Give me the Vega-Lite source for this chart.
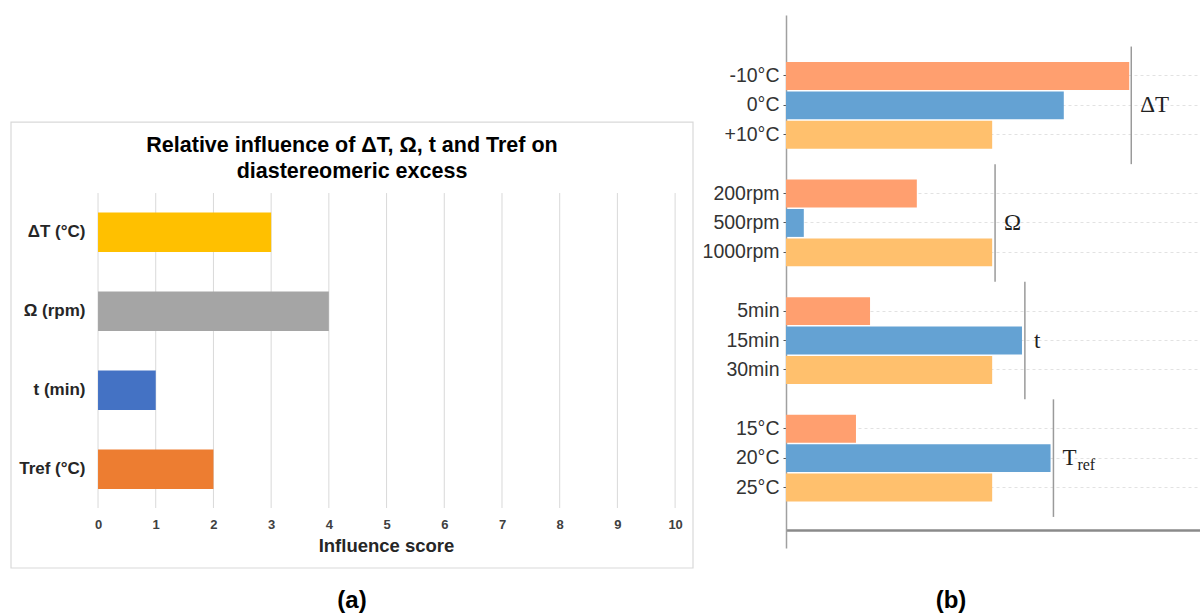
{
  "$schema": "https://vega.github.io/schema/vega-lite/v6.json",
  "padding": {"left": 10, "top": 15, "right": 0, "bottom": 0},
  "background": "white",
  "config": {"font": "Liberation Sans", "view": {"stroke": null}},
  "spacing": 8,
  "resolve": {"scale": {"color": "independent"}},
  "datasets": {
    "scores": [
      {"factor": "ΔT (°C)", "score": 3},
      {"factor": "Ω (rpm)", "score": 4},
      {"factor": "t (min)", "score": 1},
      {"factor": "Tref (°C)", "score": 2}
    ],
    "ticks": [
      {"tick": 0}, {"tick": 1}, {"tick": 2}, {"tick": 3}, {"tick": 4}, {"tick": 5},
      {"tick": 6}, {"tick": 7}, {"tick": 8}, {"tick": 9}, {"tick": 10}
    ],
    "levels": [
      {"param": "ΔT", "setting": "-10°C", "level": "low", "value": 82.9},
      {"param": "ΔT", "setting": "0°C", "level": "mid", "value": 67.1},
      {"param": "ΔT", "setting": "+10°C", "level": "high", "value": 49.8},
      {"param": "Ω", "setting": "200rpm", "level": "low", "value": 31.6},
      {"param": "Ω", "setting": "500rpm", "level": "mid", "value": 4.3},
      {"param": "Ω", "setting": "1000rpm", "level": "high", "value": 49.8},
      {"param": "t", "setting": "5min", "level": "low", "value": 20.3},
      {"param": "t", "setting": "15min", "level": "mid", "value": 57.0},
      {"param": "t", "setting": "30min", "level": "high", "value": 49.8},
      {"param": "Tref", "setting": "15°C", "level": "low", "value": 16.9},
      {"param": "Tref", "setting": "20°C", "level": "mid", "value": 63.9},
      {"param": "Tref", "setting": "25°C", "level": "high", "value": 49.8}
    ],
    "brackets": [
      {"param": "ΔT", "label": "ΔT", "sub": "", "top": "g0", "bottom": "g1", "mid": "0°C", "bx": 83.4},
      {"param": "Ω", "label": "Ω", "sub": "", "top": "g1", "bottom": "g2", "mid": "500rpm", "bx": 50.5},
      {"param": "t", "label": "t", "sub": "", "top": "g2", "bottom": "g3", "mid": "15min", "bx": 57.7},
      {"param": "Tref", "label": "T", "sub": "ref", "top": "g3", "bottom": "g4", "mid": "20°C", "bx": 64.6}
    ]
  },
  "hconcat": [
    {
      "title": {"text": "(a)", "orient": "bottom", "anchor": "middle", "fontSize": 24, "fontWeight": "bold", "offset": 20, "color": "#000"},
      "vconcat": [
        {
          "width": 682,
          "height": 553,
          "title": {
            "text": ["Relative influence of ΔT, Ω, t and Tref on", "diastereomeric excess"],
            "fontSize": 21.5, "fontWeight": "bold", "lineHeight": 26, "offset": -167, "color": "#000"
          },
          "resolve": {"scale": {"y": "independent"}},
          "layer": [
            {
              "data": {"values": [{"frame": "border"}]},
              "mark": {"type": "rect", "fill": "#ffffff", "fillOpacity": 0, "stroke": "#D9D9D9", "strokeWidth": 1.2},
              "encoding": {
                "x": {"datum": -1.508, "type": "quantitative", "scale": {"domain": [-1.508, 10.31], "nice": false, "zero": false}},
                "x2": {"datum": 10.31},
                "y": {"datum": 0, "type": "quantitative", "scale": {"domain": [0, 1.24], "nice": false, "zero": false}, "axis": null},
                "y2": {"datum": 1}
              }
            },
            {
              "data": {"name": "ticks"},
              "mark": {"type": "rule", "color": "#D9D9D9", "strokeWidth": 1},
              "encoding": {
                "x": {"field": "tick", "type": "quantitative", "scale": {"domain": [-1.508, 10.31], "nice": false, "zero": false}},
                "y": {"datum": 0.1345, "type": "quantitative", "scale": {"domain": [0, 1.24], "nice": false, "zero": false}, "axis": null},
                "y2": {"datum": 0.8408}
              }
            },
            {
              "data": {"name": "scores"},
              "mark": {"type": "bar"},
              "encoding": {
                "y": {
                  "field": "factor", "type": "nominal",
                  "scale": {"domain": ["_a", "ΔT (°C)", "Ω (rpm)", "t (min)", "Tref (°C)", "_b"], "paddingInner": 0.5, "paddingOuter": 0.75, "align": 1},
                  "axis": {
                    "title": null, "domain": false, "ticks": false, "offset": -87,
                    "labelExpr": "indexof(datum.label, '_') === 0 ? '' : datum.label",
                    "labelFontSize": 17, "labelFontWeight": "bold", "labelColor": "#262626", "labelPadding": 13
                  }
                },
                "x": {
                  "field": "score", "type": "quantitative",
                  "scale": {"domain": [-1.508, 10.31], "nice": false, "zero": false},
                  "axis": {
                    "values": [0, 1, 2, 3, 4, 5, 6, 7, 8, 9, 10], "format": "d", "offset": -60,
                    "domain": false, "ticks": false, "grid": false,
                    "labelFontSize": 13, "labelFontWeight": "bold", "labelColor": "#404040", "labelPadding": 10,
                    "title": "Influence score", "titleFontSize": 18.5, "titleFontWeight": "bold", "titleColor": "#262626", "titlePadding": 5,
                    "titleX": 375
                  }
                },
                "x2": {"datum": 0},
                "color": {
                  "field": "factor", "type": "nominal",
                  "scale": {"domain": ["ΔT (°C)", "Ω (rpm)", "t (min)", "Tref (°C)"], "range": ["#FFC000", "#A5A5A5", "#4472C4", "#ED7D31"]},
                  "legend": null
                }
              }
            }
          ]
        }
      ]
    },
    {
      "title": {"text": "(b)", "orient": "bottom", "anchor": "middle", "fontSize": 24, "fontWeight": "bold", "offset": 41, "color": "#000"},
      "vconcat": [
        {
          "width": 414,
          "height": 533,
          "layer": [
            {
              "data": {"name": "levels"},
              "mark": {"type": "bar"},
              "encoding": {
                "y": {
                  "field": "setting", "type": "nominal", "title": null,
                  "scale": {"domain": ["g0", "-10°C", "0°C", "+10°C", "g1", "200rpm", "500rpm", "1000rpm", "g2", "5min", "15min", "30min", "g3", "15°C", "20°C", "25°C", "g4"], "paddingInner": 0.05, "paddingOuter": 0.59, "align": 0.507},
                  "axis": {
                    "title": null,
                    "domainColor": "#a0a0a0", "domainWidth": 1.5,
                    "tickSize": 3, "tickColor": "#555555",
                    "tickOpacity": {"condition": {"test": "indexof(datum.value, 'g') === 0", "value": 0}, "value": 1},
                    "labelFontSize": 19.5, "labelColor": "#333333", "labelPadding": 4,
                    "labelExpr": "indexof(datum.label, 'g') === 0 ? '' : datum.label",
                    "grid": true, "gridColor": "#e2e2e2", "gridDash": [3, 3],
                    "gridOpacity": {"condition": {"test": "indexof(datum.value, 'g') === 0", "value": 0}, "value": 1}
                  }
                },
                "x": {
                  "field": "value", "type": "quantitative",
                  "scale": {"domain": [0, 100], "nice": false},
                  "axis": {
                    "orient": "bottom", "offset": -18, "labels": false, "ticks": false, "grid": false,
                    "domainColor": "#8a8a8a", "domainWidth": 2.5,
                    "title": "Relative influence", "titleAnchor": "end", "titleFontSize": 16, "titleFontWeight": "normal", "titleColor": "#333333", "titlePadding": 6
                  }
                },
                "color": {
                  "field": "level", "type": "nominal",
                  "scale": {"domain": ["low", "mid", "high"], "range": ["#FF9F6F", "#64A2D3", "#FFC06D"]},
                  "legend": null
                }
              }
            },
            {
              "data": {"name": "brackets"},
              "mark": {"type": "rule", "color": "#9a9a9a", "strokeWidth": 1.5},
              "encoding": {
                "x": {"field": "bx", "type": "quantitative", "title": null, "scale": {"domain": [0, 100], "nice": false}},
                "y": {"field": "top", "type": "nominal", "title": null, "scale": {"domain": ["g0", "-10°C", "0°C", "+10°C", "g1", "200rpm", "500rpm", "1000rpm", "g2", "5min", "15min", "30min", "g3", "15°C", "20°C", "25°C", "g4"], "paddingInner": 0.05, "paddingOuter": 0.59, "align": 0.507}},
                "y2": {"field": "bottom"}
              }
            },
            {
              "data": {"name": "brackets"},
              "mark": {"type": "text", "align": "left", "baseline": "middle", "dx": 9, "font": "Liberation Serif", "fontSize": 23, "color": "#222222"},
              "encoding": {
                "x": {"field": "bx", "type": "quantitative", "title": null, "scale": {"domain": [0, 100], "nice": false}},
                "y": {"field": "mid", "type": "nominal", "title": null, "scale": {"domain": ["g0", "-10°C", "0°C", "+10°C", "g1", "200rpm", "500rpm", "1000rpm", "g2", "5min", "15min", "30min", "g3", "15°C", "20°C", "25°C", "g4"], "paddingInner": 0.05, "paddingOuter": 0.59, "align": 0.507}},
                "text": {"field": "label"}
              }
            },
            {
              "data": {"name": "brackets"},
              "mark": {"type": "text", "align": "left", "baseline": "middle", "dx": 24, "dy": 7, "font": "Liberation Serif", "fontSize": 16, "color": "#222222"},
              "encoding": {
                "x": {"field": "bx", "type": "quantitative", "title": null, "scale": {"domain": [0, 100], "nice": false}},
                "y": {"field": "mid", "type": "nominal", "title": null, "scale": {"domain": ["g0", "-10°C", "0°C", "+10°C", "g1", "200rpm", "500rpm", "1000rpm", "g2", "5min", "15min", "30min", "g3", "15°C", "20°C", "25°C", "g4"], "paddingInner": 0.05, "paddingOuter": 0.59, "align": 0.507}},
                "text": {"field": "sub"}
              }
            }
          ]
        }
      ]
    }
  ]
}
